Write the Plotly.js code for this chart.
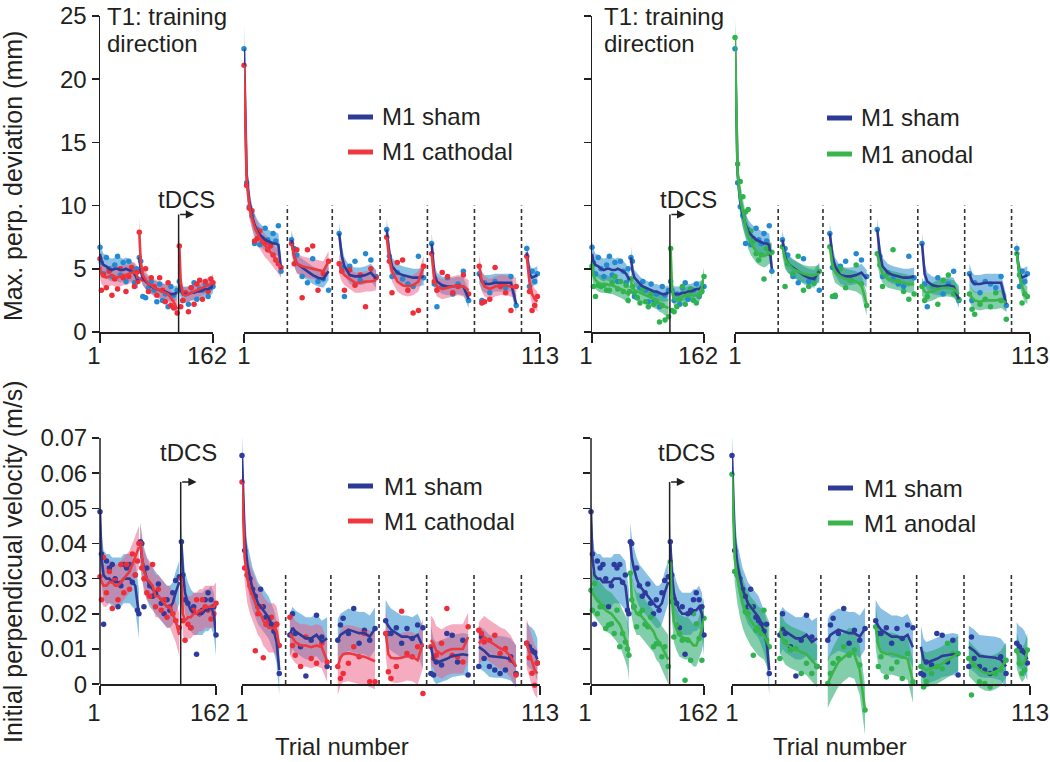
<!DOCTYPE html>
<html><head><meta charset="utf-8">
<script src="https://cdn.plot.ly/plotly-3.0.1.min.js"></script>
<style>html,body{margin:0;padding:0;background:#fff;}#chart{width:1050px;height:762px;}</style>
</head><body><div id="chart"></div>
<script>
// ---------- trial structure ----------
const PRE_TRIALS = [1,3,6,10,14,18,22,26,30,34,38,42,46,50,53,55,
  57,59,62,66,70,74,78,82,86,90,94,98,102,106,111,
  114,116,119,123,127,131,135,139,143,147,151,155,159,162];
const PRE_BLOCK_STARTS = [1,57,114];
const POST_TRIALS = [1,2,3,4,5,6,7,8,9,10,11,12,13,14,15,
  19,20,21,23,25,27,29,31,33,
  37,38,39,41,43,45,47,49,51,
  55,56,57,59,61,63,65,67,69,
  72,73,74,76,78,80,82,84,86,
  90,91,92,94,96,98,100,102,104,
  108,109,110,111,112];
const POST_BLOCK_STARTS = [1,19,37,55,72,90,108];
const BLOCK_BREAKS = [17.4,34.4,52.5,70.4,88.2,106];
const TDCS_TRIAL = 113;
const PRE_TICKS = [1,162];
const POST_TICKS = [1,113];
const MPD_TICKS = [0,5,10,15,20,25];
const VEL_TICKS = [0,0.01,0.02,0.03,0.04,0.05,0.06,0.07];
const VEL_TICK_TEXT = ['0','0.01','0.02','0.03','0.04','0.05','0.06','0.07'];

// ---------- Max. perpendicular deviation (mm) ----------
const MPD_SHAM_PRE_MEAN = [6.2,5.6,5.3,5.2,5.0,4.9,5.0,5.0,4.9,4.9,5.0,4.9,4.8,4.6,4.3,4.1,
  5.9,4.9,4.3,4.0,3.8,3.6,3.5,3.4,3.3,3.2,3.2,3.1,3.0,3.0,3.1,
  3.8,3.3,3.0,3.0,3.0,3.1,3.1,3.2,3.2,3.3,3.4,3.4,3.5,3.7];
const MPD_SHAM_PRE_DOTS = [6.7,5.5,4.6,5.9,5.0,4.4,5.3,6.0,4.5,5.5,4.0,5.6,4.8,3.9,5.0,4.2,
  5.9,5.6,2.8,2.7,3.5,4.0,3.3,2.4,3.8,2.5,3.0,2.0,3.6,2.9,3.3,
  4.0,3.3,2.5,3.0,2.2,3.5,3.9,2.6,3.4,3.3,3.8,2.8,3.5,3.6];
const MPD_SHAM_PRE_SD = [1.0,1.0,0.9,0.9,0.9,0.9,0.9,1.0,1.0,0.9,0.9,0.9,0.8,0.8,0.7,0.7,
  0.9,0.7,0.6,0.6,0.6,0.6,0.6,0.6,0.6,0.6,0.6,0.6,0.6,0.6,0.6,
  0.7,0.6,0.6,0.6,0.6,0.6,0.6,0.6,0.6,0.6,0.6,0.6,0.6,0.6];
const MPD_CATH_PRE_MEAN = [5.2,4.6,4.4,4.3,4.4,4.5,4.4,4.3,4.4,4.5,4.5,4.6,4.7,4.7,4.6,4.2,
  7.9,5.5,4.5,4.1,3.8,3.7,3.5,3.4,3.3,3.2,3.1,3.0,2.7,2.4,1.8,
  6.8,4.0,3.0,2.9,3.0,3.1,3.2,3.3,3.4,3.5,3.6,3.7,3.8,4.0];
const MPD_CATH_PRE_DOTS = [5.8,3.3,4.5,3.5,4.8,2.9,4.2,3.4,5.0,4.3,3.2,4.4,5.1,3.6,4.7,4.0,
  7.9,4.8,4.2,5.0,3.2,4.3,3.6,2.9,4.3,3.3,2.4,3.9,2.1,1.9,1.5,
  6.8,2.0,2.5,3.1,1.6,3.5,2.2,3.8,4.1,2.6,4.0,3.2,4.2,3.9];
const MPD_CATH_PRE_SD = [0.9,0.8,0.8,0.8,0.8,0.8,0.8,0.8,0.8,0.8,0.8,0.8,0.8,0.8,0.7,0.7,
  1.2,0.9,0.8,0.7,0.7,0.7,0.7,0.7,0.7,0.7,0.7,0.6,0.6,0.6,0.6,
  1.0,0.7,0.6,0.6,0.6,0.6,0.6,0.6,0.6,0.6,0.6,0.6,0.6,0.6];
const MPD_ANOD_PRE_MEAN = [5.2,4.5,4.1,3.9,3.8,3.8,3.8,3.7,3.7,3.6,3.5,3.4,3.3,3.1,3.0,2.9,
  4.0,3.5,3.3,3.2,3.1,3.0,2.9,2.8,2.7,2.6,2.5,2.3,2.2,2.0,1.9,
  6.6,3.5,2.6,2.5,2.6,2.8,2.9,3.0,3.0,2.9,2.9,3.0,3.5,4.3];
const MPD_ANOD_PRE_DOTS = [5.2,3.6,2.8,3.7,3.6,3.7,3.3,3.3,3.9,4.4,3.4,4.0,3.2,3.7,2.5,3.2,
  4.2,3.6,3.1,2.7,2.3,3.4,2.4,2.0,3.0,2.2,2.4,0.8,2.1,0.95,1.2,
  6.6,1.7,1.6,2.0,2.6,3.6,2.2,2.9,3.4,2.5,2.3,2.9,3.2,4.4];
const MPD_ANOD_PRE_SD = [0.8,0.8,0.7,0.7,0.7,0.7,0.7,0.7,0.7,0.7,0.7,0.7,0.7,0.7,0.7,0.7,
  0.8,0.7,0.7,0.7,0.7,0.7,0.7,0.7,0.7,0.7,0.7,0.7,0.7,0.7,0.7,
  0.9,0.7,0.6,0.6,0.6,0.6,0.6,0.6,0.6,0.6,0.6,0.6,0.7,0.8];

const MPD_SHAM_POST_MEAN = [22.4,12.5,10.3,9.2,8.5,8.0,7.7,7.5,7.3,7.2,7.1,7.0,7.0,6.9,5.0,
  7.3,6.0,5.4,5.1,4.8,4.5,4.3,4.2,4.8,
  7.8,6.0,5.2,4.5,4.4,4.4,4.5,4.7,4.2,
  8.1,6.2,5.2,4.7,4.5,4.4,4.3,4.3,4.4,
  7.0,4.6,4.0,3.7,3.6,3.6,3.7,3.6,2.6,
  4.6,4.0,3.8,3.8,3.9,3.9,3.9,3.9,2.2,
  6.3,4.6,4.3,4.4,4.5];
const MPD_SHAM_POST_DOTS = [22.4,11.8,9.9,9.2,7.0,8.1,6.9,7.4,8.2,7.3,7.0,7.8,7.2,8.4,4.8,
  7.3,6.6,6.1,4.4,3.9,5.8,4.0,4.2,3.3,
  7.8,5.1,2.8,5.2,5.6,4.1,6.2,5.7,4.4,
  8.1,6.0,4.4,4.7,4.2,3.8,3.6,6.0,4.3,
  7.0,3.8,2.0,3.6,4.3,3.0,3.8,4.8,2.5,
  4.6,2.5,3.9,3.1,4.0,3.8,3.5,4.4,2.1,
  6.6,3.6,4.8,4.0,4.6];
const MPD_SHAM_POST_SD = [1.9,1.2,1.0,0.9,0.9,0.9,0.9,0.9,0.9,0.9,0.9,0.9,0.9,0.9,0.8,
  0.8,0.8,0.7,0.7,0.7,0.7,0.7,0.7,0.7,
  0.9,0.8,0.7,0.7,0.7,0.7,0.7,0.7,0.7,
  0.9,0.8,0.7,0.7,0.7,0.7,0.7,0.7,0.7,
  0.9,0.8,0.7,0.7,0.7,0.7,0.7,0.7,0.7,
  0.8,0.7,0.7,0.7,0.7,0.7,0.7,0.7,0.7,
  0.9,0.8,0.7,0.7,0.7];
const MPD_CATH_POST_MEAN = [21.1,12.0,10.0,9.0,8.3,7.8,7.4,7.1,6.8,6.6,6.3,6.1,5.8,5.5,5.1,
  7.0,6.0,5.4,5.2,5.1,5.0,4.9,4.8,5.6,
  5.4,4.8,4.5,4.2,3.9,3.9,4.0,4.0,4.1,
  7.5,5.8,4.8,4.0,3.7,3.6,3.7,4.0,5.2,
  6.2,4.1,3.6,3.4,3.5,3.6,3.7,3.6,3.3,
  5.2,4.0,3.6,3.4,3.6,3.7,3.7,3.6,3.5,
  6.0,4.0,3.0,2.6,2.4];
const MPD_CATH_POST_DOTS = [21.1,11.6,9.8,9.6,7.2,7.4,8.0,7.2,7.0,6.5,6.8,6.1,5.7,5.4,5.1,
  7.0,5.4,6.5,2.7,6.5,6.8,3.3,4.6,5.6,
  5.4,4.8,3.3,4.9,3.7,4.5,2.0,5.0,4.3,
  7.5,5.6,3.1,5.5,5.7,3.3,1.5,1.7,5.2,
  6.2,4.0,3.3,4.7,4.4,3.1,3.6,4.5,3.0,
  5.2,2.3,2.4,2.6,5.1,3.6,3.1,1.7,3.6,
  6.0,3.2,1.7,2.1,2.8];
const MPD_CATH_POST_SD = [1.5,1.1,1.0,0.9,0.9,0.9,0.9,0.9,0.9,0.9,0.9,0.9,0.9,0.9,0.8,
  0.9,0.8,0.8,0.8,0.8,0.8,0.8,0.8,0.8,
  0.8,0.8,0.8,0.8,0.8,0.8,0.8,0.8,0.8,
  1.0,0.9,0.8,0.8,0.8,0.8,0.8,0.8,0.8,
  0.9,0.8,0.8,0.8,0.8,0.8,0.8,0.8,0.8,
  0.9,0.8,0.8,0.8,0.8,0.8,0.8,0.8,0.8,
  1.0,0.9,0.8,0.8,0.8];
const MPD_ANOD_POST_MEAN = [23.3,12.5,10.5,9.3,8.4,7.6,7.1,6.7,6.4,6.2,6.1,6.0,6.1,6.3,6.1,
  6.75,5.8,5.4,5.0,4.8,4.6,4.5,4.5,4.6,
  6.75,5.3,4.7,4.4,4.2,4.1,4.0,3.7,2.2,
  6.2,5.2,4.6,4.2,4.1,4.0,3.9,3.8,3.8,
  3.6,3.2,3.1,3.2,3.4,3.5,3.5,3.4,3.0,
  3.1,2.7,2.5,2.4,2.5,2.5,2.5,2.6,2.3,
  6.2,4.5,3.6,3.1,2.9];
const MPD_ANOD_POST_DOTS = [23.3,13.3,11.9,10.7,9.5,9.7,8.0,7.2,6.2,5.7,6.1,4.2,6.6,6.2,6.3,
  6.75,3.6,5.4,4.6,6.0,3.3,3.6,3.85,4.8,
  6.75,2.8,2.9,5.0,3.5,4.1,5.3,3.8,2.1,
  6.2,5.3,3.6,4.6,6.5,4.0,3.2,2.6,3.0,
  3.6,2.5,2.8,3.6,2.2,4.1,4.5,3.0,2.6,
  3.0,1.8,1.4,2.2,2.6,2.0,3.1,2.5,1.0,
  6.2,4.5,2.3,3.0,2.8];
const MPD_ANOD_POST_SD = [1.6,1.3,1.2,1.1,1.0,1.0,1.0,0.9,0.9,0.9,0.9,0.9,0.9,0.9,0.9,
  0.8,0.8,0.7,0.7,0.7,0.7,0.7,0.7,0.7,
  0.9,0.8,0.8,0.8,0.8,0.8,0.8,0.8,0.9,
  0.8,0.8,0.7,0.7,0.7,0.7,0.7,0.7,0.7,
  0.7,0.7,0.7,0.7,0.7,0.7,0.7,0.7,0.7,
  0.7,0.7,0.7,0.7,0.7,0.7,0.7,0.7,0.7,
  0.9,0.8,0.7,0.7,0.7];

// ---------- Initial perpendicular velocity (m/s) ----------
const VEL_SHAM_PRE_MEAN = [0.049,0.036,0.031,0.030,0.030,0.029,0.029,0.029,0.029,0.030,0.030,0.030,0.029,0.028,0.023,0.020,
  0.040,0.036,0.033,0.030,0.028,0.027,0.026,0.025,0.024,0.023,0.022,0.022,0.023,0.026,0.029,
  0.0405,0.032,0.026,0.023,0.021,0.020,0.020,0.020,0.020,0.021,0.021,0.022,0.020,0.014];
const VEL_SHAM_PRE_DOTS = [0.049,0.037,0.017,0.035,0.033,0.034,0.030,0.022,0.028,0.034,0.033,0.034,0.029,0.031,0.021,0.020,
  0.0405,0.040,0.022,0.033,0.028,0.025,0.026,0.0285,0.023,0.020,0.024,0.021,0.026,0.0295,0.0305,
  0.0405,0.031,0.024,0.023,0.016,0.022,0.0085,0.020,0.021,0.024,0.026,0.024,0.022,0.014];
const VEL_SHAM_PRE_SD = [0.007,0.007,0.007,0.007,0.007,0.007,0.007,0.007,0.007,0.007,0.007,0.007,0.007,0.007,0.007,0.007,
  0.006,0.006,0.006,0.006,0.006,0.006,0.006,0.006,0.006,0.006,0.006,0.006,0.006,0.006,0.006,
  0.006,0.006,0.006,0.006,0.006,0.006,0.006,0.006,0.006,0.006,0.006,0.006,0.006,0.006];
const VEL_CATH_PRE_MEAN = [0.030,0.029,0.028,0.028,0.029,0.029,0.028,0.028,0.029,0.030,0.031,0.032,0.034,0.036,0.038,0.039,
  0.040,0.036,0.032,0.030,0.029,0.028,0.025,0.025,0.024,0.023,0.022,0.022,0.020,0.018,0.014,
  0.030,0.020,0.018,0.019,0.019,0.020,0.020,0.021,0.021,0.022,0.022,0.022,0.022,0.023];
const VEL_CATH_PRE_DOTS = [0.0305,0.024,0.036,0.026,0.032,0.0215,0.0295,0.024,0.034,0.026,0.034,0.027,0.037,0.031,0.035,0.040,
  0.040,0.033,0.030,0.026,0.025,0.034,0.022,0.027,0.021,0.024,0.019,0.022,0.020,0.018,0.016,
  0.030,0.018,0.0125,0.017,0.016,0.021,0.024,0.020,0.024,0.022,0.021,0.0185,0.020,0.023];
const VEL_CATH_PRE_SD = [0.006,0.006,0.006,0.006,0.006,0.006,0.006,0.006,0.006,0.006,0.006,0.006,0.006,0.006,0.006,0.006,
  0.006,0.006,0.006,0.006,0.006,0.006,0.006,0.006,0.006,0.006,0.006,0.006,0.006,0.006,0.006,
  0.006,0.006,0.006,0.006,0.006,0.006,0.006,0.006,0.006,0.006,0.006,0.006,0.006,0.006];
const VEL_ANOD_PRE_MEAN = [0.0267,0.026,0.025,0.024,0.023,0.022,0.021,0.0205,0.020,0.019,0.018,0.017,0.015,0.013,0.011,0.0082,
  0.0315,0.025,0.022,0.020,0.020,0.019,0.018,0.017,0.016,0.015,0.013,0.012,0.0105,0.009,0.007,
  0.0348,0.025,0.018,0.0155,0.0138,0.0134,0.013,0.013,0.012,0.011,0.011,0.013,0.0155,0.0187];
const VEL_ANOD_PRE_DOTS = [0.0267,0.021,0.0286,0.020,0.022,0.022,0.0158,0.0168,0.0172,0.0144,0.021,0.0106,0.0144,0.012,0.010,0.0082,
  0.0315,0.024,0.022,0.0163,0.020,0.021,0.017,0.0163,0.019,0.0106,0.0115,0.0115,0.0078,0.0106,0.005,
  0.0348,0.0234,0.0134,0.0168,0.0144,0.0125,0.0011,0.0125,0.0068,0.020,0.0172,0.013,0.0068,0.0187];
const VEL_ANOD_PRE_SD = [0.006,0.006,0.006,0.006,0.006,0.006,0.006,0.006,0.006,0.006,0.006,0.006,0.006,0.0065,0.0065,0.007,
  0.006,0.006,0.006,0.006,0.006,0.006,0.006,0.006,0.006,0.006,0.006,0.006,0.006,0.0065,0.007,
  0.007,0.006,0.006,0.006,0.006,0.006,0.006,0.006,0.006,0.006,0.006,0.006,0.006,0.006];

const VEL_SHAM_POST_MEAN = [0.065,0.042,0.034,0.030,0.027,0.025,0.023,0.022,0.021,0.020,0.019,0.017,0.015,0.012,0.004,
  0.014,0.016,0.015,0.014,0.013,0.013,0.014,0.012,0.013,
  0.0125,0.014,0.0145,0.0155,0.015,0.0145,0.0145,0.0135,0.0158,
  0.018,0.0165,0.0155,0.0145,0.0135,0.0135,0.013,0.014,0.0105,
  0.0106,0.007,0.006,0.0065,0.0072,0.008,0.0082,0.0085,0.0082,
  0.0106,0.010,0.0095,0.008,0.0078,0.0078,0.0075,0.007,0.005,
  0.0115,0.0105,0.010,0.009,0.007];
const VEL_SHAM_POST_DOTS = [0.065,0.038,0.031,0.030,0.027,0.025,0.022,0.027,0.022,0.019,0.018,0.017,0.015,0.017,0.003,
  0.014,0.020,0.0144,0.0106,0.0023,0.0125,0.0196,0.0134,0.005,
  0.0125,0.0168,0.0187,0.0144,0.0215,0.0116,0.0153,0.0125,0.0158,
  0.018,0.0144,0.0144,0.016,0.0116,0.0158,0.013,0.0168,0.016,
  0.003,0.0026,0.0063,0.0054,0.0144,0.0139,0.0063,0.0125,0.0026,
  0.005,0.0134,0.0073,0.005,0.004,0.003,0.004,0.0078,0.003,
  0.0116,0.0106,0.0095,0.009,0.006];
const VEL_SHAM_POST_SD = [0.006,0.006,0.006,0.006,0.006,0.006,0.006,0.006,0.006,0.006,0.006,0.006,0.006,0.006,0.007,
  0.006,0.006,0.006,0.006,0.006,0.006,0.006,0.006,0.006,
  0.006,0.006,0.006,0.006,0.006,0.006,0.006,0.006,0.006,
  0.006,0.006,0.006,0.006,0.006,0.006,0.006,0.006,0.006,
  0.006,0.006,0.006,0.006,0.006,0.006,0.006,0.006,0.006,
  0.006,0.006,0.006,0.006,0.006,0.006,0.006,0.006,0.006,
  0.006,0.006,0.006,0.006,0.006];
const VEL_CATH_POST_MEAN = [0.0575,0.036,0.030,0.027,0.025,0.023,0.021,0.020,0.018,0.017,0.016,0.016,0.016,0.015,0.011,
  0.0144,0.013,0.012,0.011,0.011,0.0105,0.011,0.0105,0.0065,
  0.005,0.0075,0.0085,0.0088,0.0085,0.008,0.0078,0.0072,0.0065,
  0.0149,0.0085,0.0075,0.0073,0.0075,0.008,0.0078,0.0068,0.0116,
  0.0125,0.0115,0.0095,0.0085,0.0095,0.010,0.010,0.010,0.0134,
  0.0116,0.0125,0.0134,0.0122,0.0112,0.0102,0.0095,0.0078,0.005,
  0.0115,0.009,0.006,0.004,0.003];
const VEL_CATH_POST_DOTS = [0.0575,0.033,0.031,0.028,0.026,0.0095,0.020,0.022,0.0075,0.017,0.018,0.019,0.016,0.017,0.011,
  0.019,0.011,0.0082,0.005,0.0134,0.0073,0.0059,0.0116,0.0063,
  0.005,0.0016,0.003,0.0059,0.0106,0.0078,0.0144,0.0007,0.0007,
  0.0144,0.0035,0.0016,0.005,0.0207,0.0087,0.0078,0.0106,-0.0027,
  0.0106,0.0073,0.0082,0.0116,0.0215,0.0082,0.0078,0.0063,0.0163,
  0.0153,0.0144,0.0120,0.0125,0.0139,0.0087,0.0101,0.0068,0.0026,
  0.0116,0.0075,0.0031,-0.0003,0.006];
const VEL_CATH_POST_SD = [0.007,0.007,0.007,0.007,0.007,0.007,0.007,0.007,0.007,0.007,0.007,0.007,0.007,0.007,0.007,
  0.006,0.006,0.006,0.006,0.006,0.006,0.006,0.006,0.006,
  0.008,0.008,0.008,0.008,0.008,0.008,0.008,0.008,0.008,
  0.007,0.007,0.007,0.007,0.007,0.007,0.007,0.007,0.007,
  0.007,0.007,0.007,0.007,0.007,0.007,0.007,0.007,0.007,
  0.006,0.006,0.006,0.006,0.006,0.006,0.006,0.006,0.006,
  0.007,0.007,0.007,0.007,0.007];
const VEL_ANOD_POST_MEAN = [0.0597,0.036,0.030,0.026,0.023,0.021,0.0195,0.018,0.017,0.016,0.015,0.0145,0.014,0.0125,0.0106,
  0.0153,0.013,0.0116,0.0105,0.0098,0.0092,0.0085,0.0068,0.005,
  0.0002,0.002,0.0035,0.0063,0.0078,0.009,0.0085,0.004,-0.0074,
  0.0163,0.011,0.0092,0.0085,0.0087,0.0082,0.0078,0.0072,0.0007,
  0.005,0.0045,0.004,0.0045,0.005,0.0058,0.0068,0.0078,0.0087,
  0.0073,0.0065,0.0055,0.004,0.0032,0.003,0.0035,0.0045,0.0068,
  0.0095,0.007,0.0055,0.0065,0.0095];
const VEL_ANOD_POST_DOTS = [0.0597,0.032,0.031,0.0295,0.026,0.0206,0.020,0.022,0.0082,0.0153,0.016,0.0144,0.021,0.0125,0.0106,
  0.0073,0.0158,0.012,0.0097,0.0101,0.003,0.0059,0.003,0.005,
  0.0002,0.003,0.0059,0.0073,0.0106,0.0082,0.0097,0.0054,-0.0074,
  0.0163,0.005,0.0078,0.002,0.0044,0.0063,0.0016,0.0087,0.0007,
  0.005,-0.0008,0.0007,0.003,0.005,0.0044,0.0116,0.0087,0.0087,
  0.0073,-0.0031,0.0054,0.0007,0.0002,-0.0008,0.003,0.004,0.0068,
  0.0095,0.0059,0.003,0.004,0.0097];
const VEL_ANOD_POST_SD = [0.007,0.007,0.007,0.007,0.007,0.007,0.007,0.007,0.007,0.007,0.007,0.007,0.007,0.007,0.007,
  0.006,0.006,0.006,0.006,0.006,0.006,0.006,0.006,0.006,
  0.007,0.007,0.007,0.007,0.007,0.007,0.007,0.007,0.007,
  0.006,0.006,0.006,0.006,0.006,0.006,0.006,0.006,0.006,
  0.005,0.005,0.005,0.005,0.005,0.005,0.005,0.005,0.005,
  0.005,0.005,0.005,0.005,0.005,0.005,0.005,0.005,0.005,
  0.005,0.005,0.005,0.005,0.005];

// ---------- styles ----------
const FONT = 'Liberation Sans, Arial, Helvetica, sans-serif';
const INK = '#231f20';
const C = {
  sham:{line:'#2e3a96', band:'rgba(60,150,210,0.6)', dotTop:'#2489d0', dotBot:'#2c3c9e'},
  cath:{line:'#ee3840', band:'rgba(235,90,130,0.5)', dot:'#ef2d38'},
  anod:{line:'#3bb54a', band:'rgba(30,165,100,0.55)', dot:'#2eb350'}
};
const W = 1050, H = 762;
const px = v => v / W, py = v => 1 - v / H;

const G = {
  mpdSham:{pre:[MPD_SHAM_PRE_MEAN,MPD_SHAM_PRE_SD,MPD_SHAM_PRE_DOTS], post:[MPD_SHAM_POST_MEAN,MPD_SHAM_POST_SD,MPD_SHAM_POST_DOTS]},
  mpdCath:{pre:[MPD_CATH_PRE_MEAN,MPD_CATH_PRE_SD,MPD_CATH_PRE_DOTS], post:[MPD_CATH_POST_MEAN,MPD_CATH_POST_SD,MPD_CATH_POST_DOTS]},
  mpdAnod:{pre:[MPD_ANOD_PRE_MEAN,MPD_ANOD_PRE_SD,MPD_ANOD_PRE_DOTS], post:[MPD_ANOD_POST_MEAN,MPD_ANOD_POST_SD,MPD_ANOD_POST_DOTS]},
  velSham:{pre:[VEL_SHAM_PRE_MEAN,VEL_SHAM_PRE_SD,VEL_SHAM_PRE_DOTS], post:[VEL_SHAM_POST_MEAN,VEL_SHAM_POST_SD,VEL_SHAM_POST_DOTS]},
  velCath:{pre:[VEL_CATH_PRE_MEAN,VEL_CATH_PRE_SD,VEL_CATH_PRE_DOTS], post:[VEL_CATH_POST_MEAN,VEL_CATH_POST_SD,VEL_CATH_POST_DOTS]},
  velAnod:{pre:[VEL_ANOD_PRE_MEAN,VEL_ANOD_PRE_SD,VEL_ANOD_PRE_DOTS], post:[VEL_ANOD_POST_MEAN,VEL_ANOD_POST_SD,VEL_ANOD_POST_DOTS]}
};

const PANELS = [
  {xPre:'x', xPost:'x2', y:'y', sham:'mpdSham', stim:'mpdCath', stimStyle:C.cath, shamDot:C.sham.dotTop},
  {xPre:'x3', xPost:'x4', y:'y2', sham:'mpdSham', stim:'mpdAnod', stimStyle:C.anod, shamDot:C.sham.dotTop},
  {xPre:'x5', xPost:'x6', y:'y3', sham:'velSham', stim:'velCath', stimStyle:C.cath, shamDot:C.sham.dotBot},
  {xPre:'x7', xPost:'x8', y:'y4', sham:'velSham', stim:'velAnod', stimStyle:C.anod, shamDot:C.sham.dotBot}
];

function segments(trials, starts){
  const segs = starts.map(() => []);
  trials.forEach((t, i) => { let k = 0; starts.forEach((s, j) => { if (t >= s) k = j; }); segs[k].push(i); });
  return segs.filter(s => s.length);
}
function bands(xa, ya, trials, starts, mean, sd, color){
  return segments(trials, starts).map(seg => {
    const xs = seg.map(i => trials[i]);
    const up = seg.map(i => mean[i] + sd[i]);
    const lo = seg.map(i => mean[i] - sd[i]);
    return {type:'scatter', mode:'lines', xaxis:xa, yaxis:ya,
      x: xs.concat(xs.slice().reverse()), y: up.concat(lo.slice().reverse()),
      fill:'toself', fillcolor:color, line:{width:0}, hoverinfo:'skip', showlegend:false};
  });
}
function meanLine(xa, ya, trials, starts, mean, color){
  const x = [], y = [];
  segments(trials, starts).forEach((seg, k) => {
    if (k) { x.push(null); y.push(null); }
    seg.forEach(i => { x.push(trials[i]); y.push(mean[i]); });
  });
  return {type:'scatter', mode:'lines', xaxis:xa, yaxis:ya, x, y, connectgaps:false,
    line:{color, width:2.6}, hoverinfo:'skip', showlegend:false};
}
function dotsTrace(xa, ya, trials, dots, color){
  return {type:'scatter', mode:'markers', xaxis:xa, yaxis:ya, x:trials, y:dots,
    marker:{color, size:5.5}, cliponaxis:false, hoverinfo:'skip', showlegend:false};
}

const bandL = [], dotL = [], lineL = [];
PANELS.forEach(p => {
  [['pre', p.xPre, PRE_TRIALS, PRE_BLOCK_STARTS], ['post', p.xPost, POST_TRIALS, POST_BLOCK_STARTS]].forEach(([ph, xa, tr, st]) => {
    const s = G[p.sham][ph], m = G[p.stim][ph];
    bandL.push(...bands(xa, p.y, tr, st, s[0], s[1], C.sham.band));
    bandL.push(...bands(xa, p.y, tr, st, m[0], m[1], p.stimStyle.band));
    dotL.push(dotsTrace(xa, p.y, tr, s[2], p.shamDot));
    dotL.push(dotsTrace(xa, p.y, tr, m[2], p.stimStyle.dot));
    lineL.push(meanLine(xa, p.y, tr, st, s[0], C.sham.line));
    lineL.push(meanLine(xa, p.y, tr, st, m[0], p.stimStyle.line));
  });
});
const data = bandL.concat(dotL, lineL);

// ---------- axes ----------
const tickFont = {family:FONT, size:24, color:INK};
const X0_BOTTOM = py(684);
function xAxis(l, r, range, ticks, anchor, shift, standoff){
  const a = {domain:[px(l), px(r)], range:range, tickvals:ticks, ticktext:ticks.map(String),
    ticks:'outside', ticklen:9, tickwidth:1.5, tickcolor:INK, showline:true, linecolor:INK, linewidth:1.5,
    showgrid:false, zeroline:false, tickfont:tickFont, fixedrange:true,
    ticklabelstandoff:standoff, ticklabelshift:shift};
  if (anchor === 'free') { a.anchor = 'free'; a.position = X0_BOTTOM; } else a.anchor = anchor;
  return a;
}
function yAxis(domain, range, ticks, text, anchor, labels, line){
  return {domain, range, tickvals:ticks, ticktext:text, ticks:'outside', ticklen:7, tickwidth:1.5, tickcolor:INK,
    showticklabels:labels, showline:line, linecolor:INK, linewidth:1.5, showgrid:false, zeroline:false,
    tickfont:tickFont, anchor, fixedrange:true};
}
const TOP_DOM = [py(332), py(16)];
const BOT_DOM = [py(740), py(438)];
const MPD_RANGE = [0, 25];
const VEL_RANGE = [-0.0159, 0.07];

const shapes = [];
[[100,'y3'],[591,'y4']].forEach(([x, ya]) => shapes.push({type:'line', xref:'paper', yref:ya, x0:px(x), x1:px(x), y0:0, y1:0.07, line:{color:INK, width:1.5}}));
[['x2','y',10],['x4','y2',10],['x6','y3',0.031],['x8','y4',0.031]].forEach(([xa, ya, top]) => {
  BLOCK_BREAKS.forEach(b => shapes.push({type:'line', xref:xa, yref:ya, x0:b, x1:b, y0:0, y1:top, layer:'below',
    line:{color:'#333', width:1.6, dash:'4px,3px'}}));
});
const annotations = [];
[['x','y',9.3,10.45,8],['x3','y2',9.3,10.45,19],['x5','y3',0.0575,0.066,8],['x7','y4',0.0575,0.066,17]].forEach(([xa, ya, ay, ty, sh]) => {
  shapes.push({type:'line', xref:xa, yref:ya, x0:TDCS_TRIAL, x1:TDCS_TRIAL, y0:0, y1:ay, line:{color:INK, width:1.5}});
  annotations.push({xref:xa, yref:ya, axref:xa, ayref:ya, x:TDCS_TRIAL + 22, y:ay, ax:TDCS_TRIAL, ay:ay, text:'',
    showarrow:true, arrowhead:2, arrowsize:1.1, arrowwidth:1.5, arrowcolor:INK, standoff:0, startstandoff:0});
  annotations.push({xref:xa, yref:ya, x:TDCS_TRIAL, y:ty, xshift:sh, text:'tDCS', showarrow:false,
    xanchor:'center', yanchor:'middle', font:{family:FONT, size:24, color:INK}});
});
[[105],[602]].forEach(([x]) => {
  annotations.push({xref:'paper', yref:'paper', x:px(x), y:py(16), text:'T1: training', showarrow:false, xanchor:'left', yanchor:'middle', font:{family:FONT, size:24, color:INK}});
  annotations.push({xref:'paper', yref:'paper', x:px(x), y:py(44), text:'direction', showarrow:false, xanchor:'left', yanchor:'middle', font:{family:FONT, size:24, color:INK}});
});
[[348,380,117,152,'M1 cathodal',C.cath.line],[827,859,118,154,'M1 anodal',C.anod.line],
 [348,382,486,521,'M1 cathodal',C.cath.line],[828,862,488,523,'M1 anodal',C.anod.line]].forEach(([sx, tx, y1, y2, lab, col]) => {
  shapes.push({type:'line', xref:'paper', yref:'paper', x0:px(sx), x1:px(sx+25), y0:py(y1), y1:py(y1), line:{color:C.sham.line, width:5}});
  shapes.push({type:'line', xref:'paper', yref:'paper', x0:px(sx), x1:px(sx+25), y0:py(y2), y1:py(y2), line:{color:col, width:5}});
  annotations.push({xref:'paper', yref:'paper', x:px(tx), y:py(y1), text:'M1 sham', showarrow:false, xanchor:'left', yanchor:'middle', font:{family:FONT, size:24, color:INK}});
  annotations.push({xref:'paper', yref:'paper', x:px(tx), y:py(y2), text:lab, showarrow:false, xanchor:'left', yanchor:'middle', font:{family:FONT, size:24, color:INK}});
});
annotations.push({xref:'paper', yref:'paper', x:px(13), y:py(176), text:'Max. perp. deviation (mm)', textangle:-90, showarrow:false, xanchor:'center', yanchor:'middle', font:{family:FONT, size:25, color:INK}});
annotations.push({xref:'paper', yref:'paper', x:px(13), y:py(562), text:'Initial perpendicual velocity (m/s)', textangle:-90, showarrow:false, xanchor:'center', yanchor:'middle', font:{family:FONT, size:25, color:INK}});
[342, 840].forEach(x => annotations.push({xref:'paper', yref:'paper', x:px(x), y:py(746), text:'Trial number', showarrow:false, xanchor:'center', yanchor:'middle', font:{family:FONT, size:24, color:INK}}));

const layout = {
  width:W, height:H, autosize:false, margin:{l:0, r:0, t:0, b:0},
  paper_bgcolor:'#fff', plot_bgcolor:'rgba(0,0,0,0)', showlegend:false,
  font:{family:FONT, color:INK},
  xaxis: xAxis(100, 213, [1,162], PRE_TICKS, 'y', -6, -7),
  xaxis2: xAxis(244, 540, [1,113], POST_TICKS, 'y', 0, -7),
  xaxis3: xAxis(592, 704, [1,162], PRE_TICKS, 'y2', -6, -7),
  xaxis4: xAxis(735, 1030, [1,113], POST_TICKS, 'y2', 0, -7),
  xaxis5: xAxis(100, 216, [1,162], PRE_TICKS, 'free', -6, -2),
  xaxis6: xAxis(242, 540, [1,113], POST_TICKS, 'free', 0, -2),
  xaxis7: xAxis(591, 704, [1,162], PRE_TICKS, 'free', -6, -2),
  xaxis8: xAxis(732, 1030, [1,113], POST_TICKS, 'free', 0, -2),
  yaxis: yAxis(TOP_DOM, MPD_RANGE, MPD_TICKS, MPD_TICKS.map(String), 'x', true, true),
  yaxis2: yAxis(TOP_DOM, MPD_RANGE, MPD_TICKS, MPD_TICKS.map(String), 'x3', false, true),
  yaxis3: yAxis(BOT_DOM, VEL_RANGE, VEL_TICKS, VEL_TICK_TEXT, 'x5', true, false),
  yaxis4: yAxis(BOT_DOM, VEL_RANGE, VEL_TICKS, VEL_TICK_TEXT, 'x7', false, false),
  shapes, annotations
};
Plotly.newPlot('chart', data, layout, {displayModeBar:false, staticPlot:true});
</script></body></html>
